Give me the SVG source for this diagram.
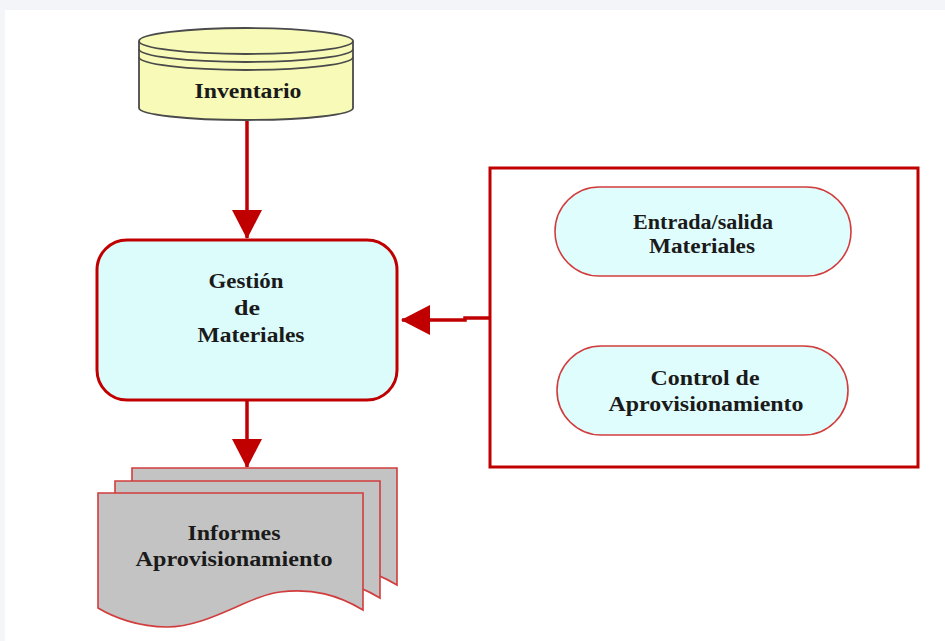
<svg xmlns="http://www.w3.org/2000/svg" width="945" height="641" viewBox="0 0 945 641">
<style>
text{font-family:"Liberation Serif","Times New Roman",serif;font-weight:bold;font-size:20px;fill:#1a1a1a;text-anchor:middle}
.conn{fill:none;stroke:#c00000;stroke-width:3.5}
.doc{fill:#c3c3c3;stroke:#d23c3c;stroke-width:1.6}
.term{fill:#e0fdfd;stroke:#d23c3c;stroke-width:1.6}
</style>
<defs>
<marker id="ah" markerUnits="userSpaceOnUse" markerWidth="30" markerHeight="30" viewBox="0 0 30 30" refX="28" refY="15" orient="auto">
<path d="M0,0 L29,15 L0,30 Z" fill="#c00000"/>
</marker>
<path id="docshape" d="M0,0 H265 V117 C240,102 215,95 182,99 C150,103 110,134 69,134 C40,134 15,124 0,115 Z"/>
</defs>
<rect width="945" height="641" fill="#f4f5f8"/>
<rect x="5" y="10" width="940" height="631" fill="#ffffff"/>

<g id="connectors">
<line class="conn" x1="247" y1="121" x2="247" y2="238" marker-end="url(#ah)"/>
<line class="conn" x1="247" y1="400" x2="247" y2="467" marker-end="url(#ah)"/>
<polyline class="conn" points="489,318 465,318 465,320 402,320" marker-end="url(#ah)"/>
</g>

<g id="inventario">
<path d="M139,41 V108 A107,12 0 0 0 353,108 V41" fill="#f8fbb8" stroke="#4a4a4a" stroke-width="1.8"/>
<ellipse cx="246" cy="41" rx="107" ry="13" fill="#f8fbb8" stroke="#4a4a4a" stroke-width="1.8"/>
<path d="M139,49 A107,13 0 0 0 353,49 M139,57 A107,13 0 0 0 353,57" fill="none" stroke="#4a4a4a" stroke-width="1.8"/>
<text x="248" y="98" textLength="107" lengthAdjust="spacingAndGlyphs">Inventario</text>
</g>

<g id="gestion">
<rect x="97" y="240" width="300" height="160" rx="30" ry="30" fill="#dcfcfc" stroke="#c00000" stroke-width="3"/>
<text x="246" y="288" textLength="75" lengthAdjust="spacingAndGlyphs">Gestión</text>
<text x="247" y="315" textLength="26" lengthAdjust="spacingAndGlyphs">de</text>
<text x="251" y="342" textLength="107" lengthAdjust="spacingAndGlyphs">Materiales</text>
</g>

<g id="informes">
<use href="#docshape" class="doc" transform="translate(132,468)"/>
<use href="#docshape" class="doc" transform="translate(115,481)"/>
<use href="#docshape" class="doc" transform="translate(98,493)"/>
<text x="234" y="540" textLength="93" lengthAdjust="spacingAndGlyphs">Informes</text>
<text x="234" y="566" textLength="197" lengthAdjust="spacingAndGlyphs">Aprovisionamiento</text>
</g>

<g id="contenedor">
<rect x="490" y="168" width="428" height="299" fill="none" stroke="#c00000" stroke-width="3"/>
</g>

<g id="entrada">
<rect class="term" x="555" y="187" width="296" height="89" rx="44.5" ry="44.5"/>
<text x="703" y="229" textLength="140" lengthAdjust="spacingAndGlyphs">Entrada/salida</text>
<text x="702" y="253" textLength="106" lengthAdjust="spacingAndGlyphs">Materiales</text>
</g>

<g id="control">
<rect class="term" x="557" y="346" width="291" height="89" rx="44.5" ry="44.5"/>
<text x="705" y="385" textLength="109" lengthAdjust="spacingAndGlyphs">Control de</text>
<text x="706" y="411" textLength="195" lengthAdjust="spacingAndGlyphs">Aprovisionamiento</text>
</g>
</svg>
